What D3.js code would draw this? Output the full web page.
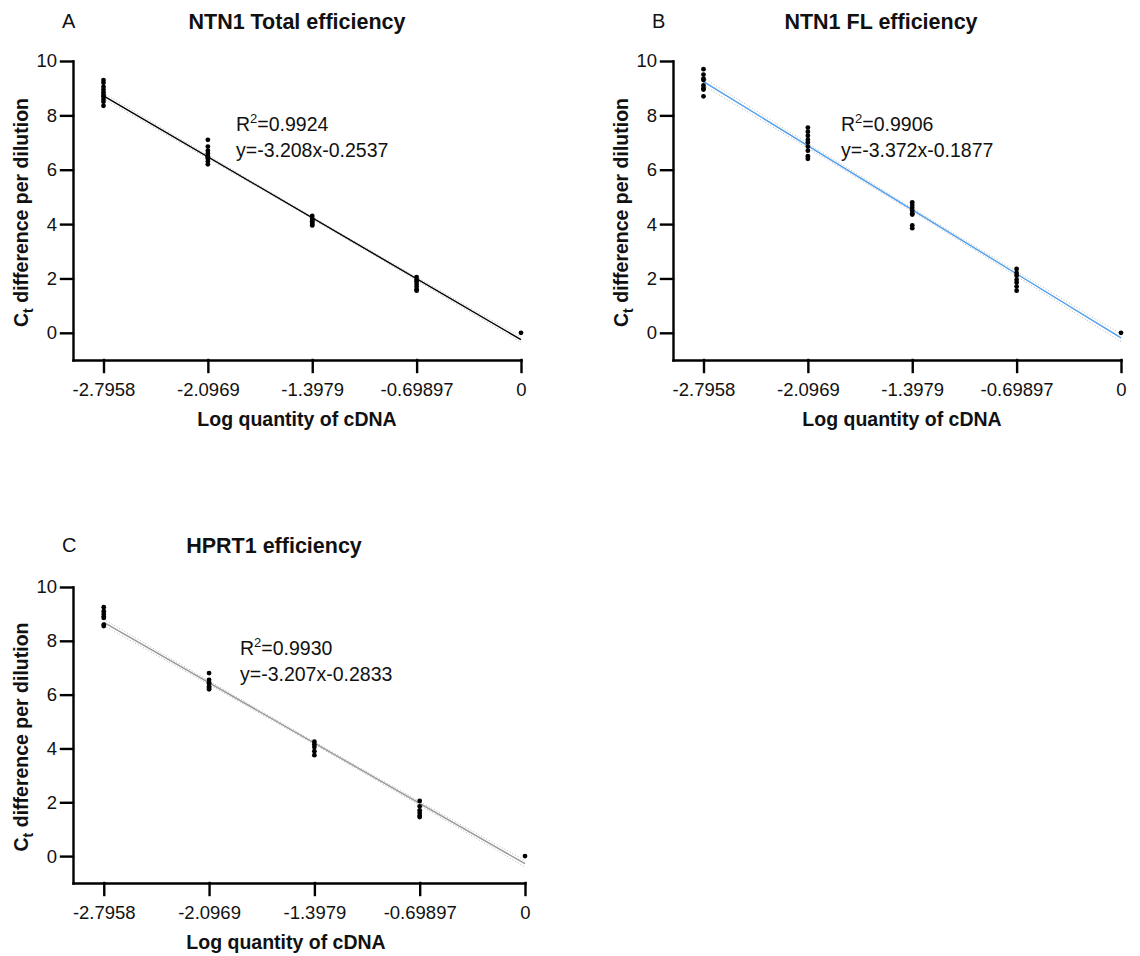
<!DOCTYPE html>
<html>
<head>
<meta charset="utf-8">
<script src="https://cdn.jsdelivr.net/npm/d3@7"></script>
<style>
  body { margin: 0; background: #fff; }
  svg text { font-family: "Liberation Sans", Arial, sans-serif; fill: #111; }
  .axis path, .axis line { stroke: #000; stroke-width: 2.4; stroke-linecap: square; }
  .axis text { font-size: 18.5px; }
</style>
</head>
<body>
<div id="chart"></div>
<script>
// dilution positions (log quantity of cDNA) and tick labels
var xTicks = [-2.7958, -2.0969, -1.3979, -0.69897, 0];
var xTickLabels = ["-2.7958", "-2.0969", "-1.3979", "-0.69897", "0"];
var yTicks = [0, 2, 4, 6, 8, 10];

// Ct difference per dilution, one list of replicates per dilution
var totalValues = [
  [9.3, 9.2, 9.05, 8.95, 8.85, 8.75, 8.7, 8.6, 8.5, 8.35],
  [7.1, 6.85, 6.7, 6.6, 6.5, 6.45, 6.4, 6.3, 6.2],
  [4.3, 4.2, 4.15, 4.1, 4.05, 4.0, 3.95],
  [2.05, 1.95, 1.9, 1.8, 1.7, 1.6, 1.55],
  [0]
];
var flValues = [
  [9.7, 9.5, 9.35, 9.3, 9.1, 9.0, 8.95, 8.7],
  [7.55, 7.4, 7.25, 7.1, 7.0, 6.85, 6.7, 6.5, 6.4],
  [4.8, 4.7, 4.6, 4.5, 4.4, 4.35, 3.95, 3.85],
  [2.35, 2.2, 2.1, 1.95, 1.85, 1.7, 1.55],
  [0]
];
var hprtValues = [
  [9.25, 9.1, 9.0, 8.9, 8.85, 8.6, 8.55],
  [6.8, 6.55, 6.45, 6.4, 6.3, 6.25, 6.2],
  [4.25, 4.15, 4.05, 3.9, 3.75],
  [2.05, 1.85, 1.7, 1.6, 1.5, 1.45],
  [0]
];

// linear fits as printed on the chart
var titles = ["NTN1 Total efficiency", "NTN1 FL efficiency", "HPRT1 efficiency"];
var letters = ["A", "B", "C"];
var slopes = [-3.208, -3.372, -3.207];
var intercepts = [-0.2537, -0.1877, -0.2833];
var r2Labels = ["0.9924", "0.9906", "0.9930"];
var fitLabels = ["y=-3.208x-0.2537", "y=-3.372x-0.1877", "y=-3.207x-0.2833"];
// half width of the 95% band at each dilution
var bandA = [0.1, 0.06, 0.04, 0.06, 0.1];
var bandB = [0.14, 0.09, 0.06, 0.09, 0.14];
var bandC = [0.12, 0.07, 0.05, 0.07, 0.12];

var svg = d3.select("#chart").append("svg")
  .attr("width", 1140).attr("height", 956);

var panels = [
  {values: totalValues, band: bandA, color: "#000000", left: 73, right: 521, top: 61, bottom: 360,
   letterX: 62, titleX: 297, titleY: 29, xLabelX: 297, yLabelX: 28, annX: 236, annY: 131},
  {values: flValues, band: bandB, color: "#4d9ff0", left: 673, right: 1121, top: 61, bottom: 360,
   letterX: 652, titleX: 881, titleY: 29, xLabelX: 902, yLabelX: 628, annX: 841, annY: 131},
  {values: hprtValues, band: bandC, color: "#999999", left: 73, right: 525, top: 587, bottom: 883,
   letterX: 62, titleX: 274, titleY: 553, xLabelX: 286, yLabelX: 28, annX: 240, annY: 655}
];

panels.forEach(function(p, i) {
  var x = d3.scaleLinear().domain([-3, 0]).range([p.left, p.right]);
  var y = d3.scaleLinear().domain([-1, 10]).range([p.bottom, p.top]);
  var g = svg.append("g");

  // axes
  g.append("g").attr("class", "axis")
    .attr("transform", "translate(0," + p.bottom + ")")
    .call(d3.axisBottom(x).tickValues(xTicks).tickSize(12).tickSizeOuter(0)
      .tickPadding(11).tickFormat(function(d, k) { return xTickLabels[k]; }));
  g.append("g").attr("class", "axis")
    .attr("transform", "translate(" + p.left + ",0)")
    .call(d3.axisLeft(y).tickValues(yTicks).tickSize(12).tickSizeOuter(0).tickPadding(4));

  // confidence band (dotted)
  var bandLine = function(sign) {
    return d3.line()
      .x(function(d, k) { return x(xTicks[k]); })
      .y(function(d, k) { return y(slopes[i] * xTicks[k] + intercepts[i] + sign * d); })
      .curve(d3.curveMonotoneX)(p.band);
  };
  [-1, 1].forEach(function(s) {
    g.append("path").attr("d", bandLine(s))
      .attr("fill", "none").attr("stroke", "#b5b5b5")
      .attr("stroke-width", 1).attr("stroke-dasharray", "1,2");
  });

  // fit line
  var x0 = xTicks[0], x1 = xTicks[xTicks.length - 1];
  g.append("line")
    .attr("x1", x(x0)).attr("y1", y(slopes[i] * x0 + intercepts[i]))
    .attr("x2", x(x1)).attr("y2", y(slopes[i] * x1 + intercepts[i]))
    .attr("stroke", p.color).attr("stroke-width", 1.4);

  // replicate points
  var pts = [];
  p.values.forEach(function(list, k) {
    list.forEach(function(v) { pts.push({x: xTicks[k], y: v}); });
  });
  g.append("g").selectAll("circle").data(pts).enter().append("circle")
    .attr("cx", function(d) { return x(d.x); })
    .attr("cy", function(d) { return y(d.y); })
    .attr("r", 2.4).attr("fill", "#000");

  // texts
  g.append("text").attr("x", p.letterX).attr("y", p.titleY - 1)
    .style("font-size", "20px").text(letters[i]);
  g.append("text").attr("x", p.titleX).attr("y", p.titleY)
    .attr("text-anchor", "middle").style("font-size", "21.5px").style("font-weight", "bold")
    .text(titles[i]);
  g.append("text").attr("x", p.xLabelX).attr("y", p.bottom + 66)
    .attr("text-anchor", "middle").style("font-size", "19.5px").style("font-weight", "bold")
    .text("Log quantity of cDNA");
  var yl = g.append("text")
    .attr("transform", "translate(" + p.yLabelX + "," + ((p.top + p.bottom) / 2 + 2) + ") rotate(-90)")
    .attr("text-anchor", "middle").style("font-size", "19.5px").style("font-weight", "bold");
  yl.append("tspan").text("C");
  yl.append("tspan").attr("dy", 5).style("font-size", "14px").text("t");
  yl.append("tspan").attr("dy", -5).text(" difference per dilution");

  var ann = g.append("text").attr("x", p.annX).attr("y", p.annY).style("font-size", "19.5px");
  ann.append("tspan").text("R");
  ann.append("tspan").attr("dy", -8).style("font-size", "13px").text("2");
  ann.append("tspan").attr("dy", 8).text("=" + r2Labels[i]);
  g.append("text").attr("x", p.annX).attr("y", p.annY + 26).style("font-size", "19.5px")
    .text(fitLabels[i]);
});
</script>
</body>
</html>
